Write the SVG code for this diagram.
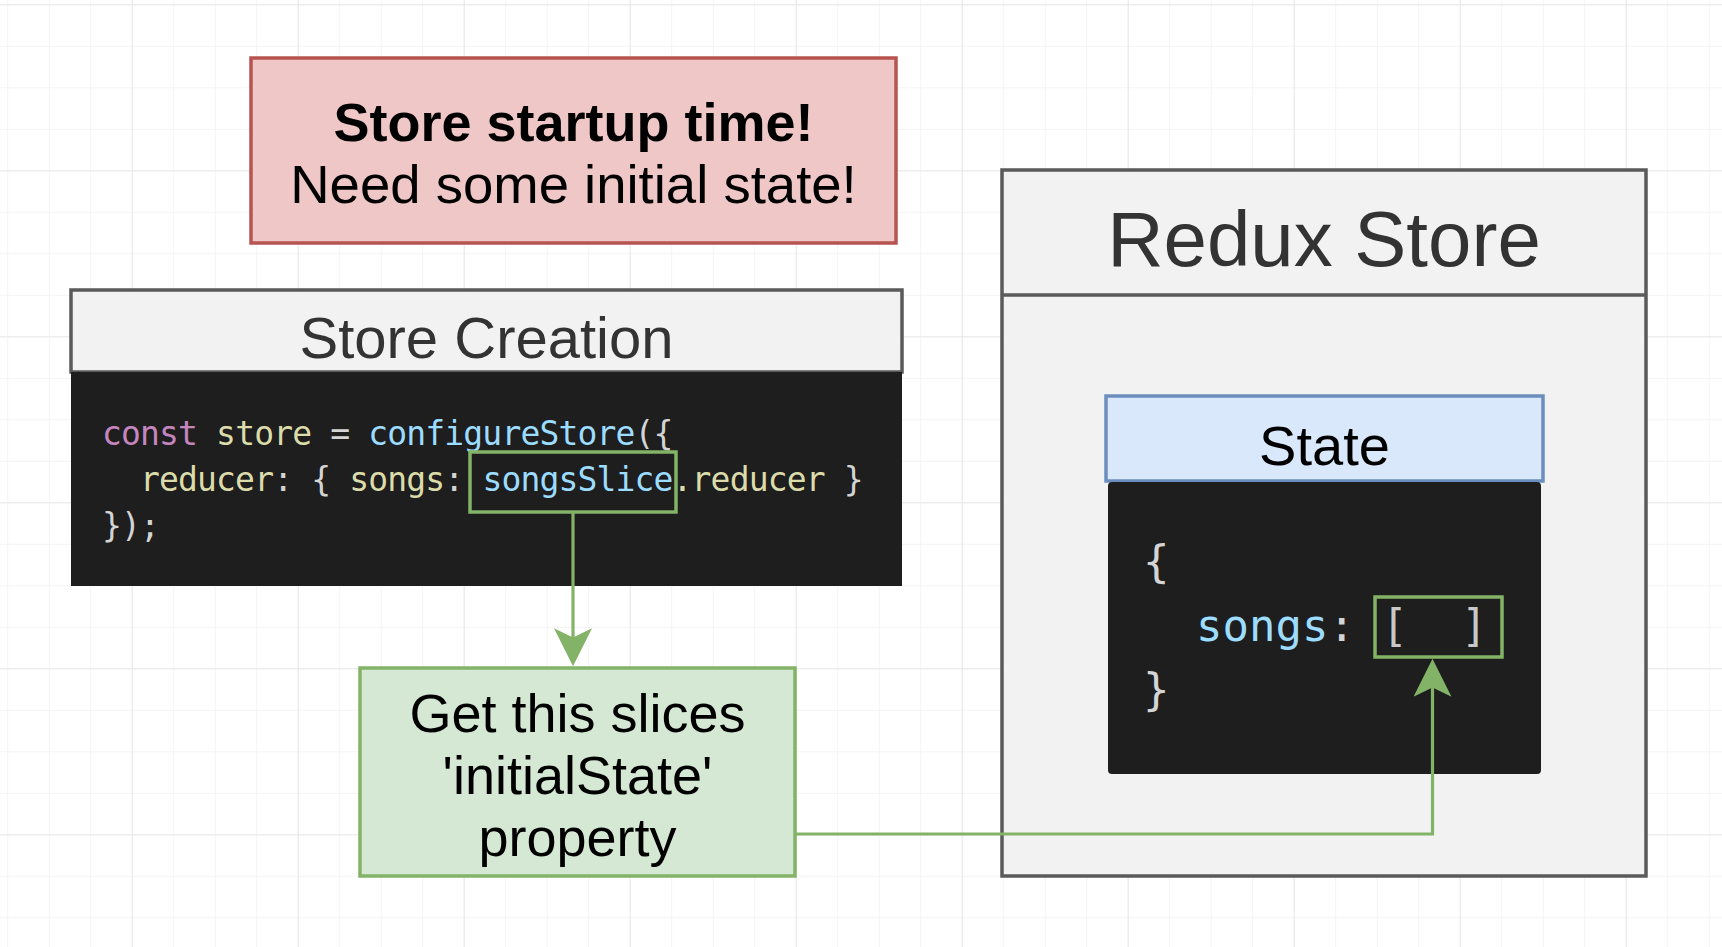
<svg xmlns="http://www.w3.org/2000/svg" width="1722" height="947" viewBox="0 0 1722 947">
<style>
.sans{font-family:"Liberation Sans",Arial,Helvetica,sans-serif}
.mono{font-family:"DejaVu Sans Mono","Liberation Mono",monospace}
.code1{font-size:33px;letter-spacing:-0.85px}
.code2{font-size:44px}
.gray{fill:#d4d4d4}
.kw{fill:#c586c0}
.var{fill:#dcdcaa}
.fn{fill:#9cdcfe}
.hl{fill:none;stroke:#82b366;stroke-width:3.5}
.conn{fill:none;stroke:#82b366;stroke-width:3.2}
.panel{fill:#f2f2f2;stroke:#5a5a5a;stroke-width:3.5}
</style>
<defs>
<pattern id="gminor" patternUnits="userSpaceOnUse" x="7.2" y="4.3" width="41.5" height="41.5">
<path d="M0,0 V41.5 M0,0 H41.5" stroke="#f1f1f1" stroke-width="1.5" fill="none"/>
</pattern>
<pattern id="gmajor" patternUnits="userSpaceOnUse" x="131.7" y="4.3" width="166" height="166">
<path d="M0,0 V166 M0,0 H166" stroke="#e3e3e3" stroke-width="1.5" fill="none"/>
</pattern>
<marker id="arr" markerUnits="userSpaceOnUse" markerWidth="38" markerHeight="38" viewBox="0 0 37 37" refX="29" refY="18.5" orient="auto">
<path d="M0,0 L37,18.5 L0,37 L9,18.5 Z" fill="#82b366"/>
</marker>
</defs>
<rect width="1722" height="947" fill="#ffffff"/>
<rect width="1722" height="947" fill="url(#gminor)"/>
<rect width="1722" height="947" fill="url(#gmajor)"/>

<g id="startup-note">
<rect x="251" y="58" width="645" height="185" fill="#efc7c6" stroke="#b85450" stroke-width="3.5"/>
<text class="sans" x="573.5" y="141" font-size="54" font-weight="bold" text-anchor="middle" fill="#000">Store startup time!</text>
<text class="sans" x="573.5" y="203" font-size="54.5" text-anchor="middle" fill="#000">Need some initial state!</text>
</g>

<g id="store-creation">
<rect class="panel" x="71" y="290" width="831" height="82"/>
<text class="sans" x="486.5" y="358" font-size="58" text-anchor="middle" fill="#333333">Store Creation</text>
<rect x="71" y="372" width="831" height="214" fill="#1e1e1e"/>
<text class="mono code1" x="102" y="445" xml:space="preserve"><tspan class="kw">const</tspan><tspan class="var"> store</tspan><tspan class="gray"> = </tspan><tspan class="fn">configureStore</tspan><tspan class="gray">({</tspan></text>
<text class="mono code1" x="102" y="491" xml:space="preserve"><tspan class="var">  reducer</tspan><tspan class="gray">: { </tspan><tspan class="var">songs</tspan><tspan class="gray">: </tspan><tspan class="fn">songsSlice</tspan><tspan class="var">.reducer</tspan><tspan class="gray"> }</tspan></text>
<text class="mono code1 gray" x="102" y="537">});</text>
<rect class="hl" x="470" y="452" width="206" height="60"/>
</g>

<g id="initial-state-note">
<rect x="360" y="668" width="435" height="208" fill="#d5e8d4" stroke="#82b366" stroke-width="3.5"/>
<text class="sans" x="577.5" y="732" font-size="54" text-anchor="middle" fill="#000">Get this slices</text>
<text class="sans" x="577.5" y="794" font-size="54" text-anchor="middle" fill="#000">'initialState'</text>
<text class="sans" x="577.5" y="856" font-size="54" text-anchor="middle" fill="#000">property</text>
</g>

<g id="redux-store">
<rect class="panel" x="1002" y="170" width="644" height="706"/>
<line x1="1002" y1="295" x2="1646" y2="295" stroke="#5a5a5a" stroke-width="3.5"/>
<text class="sans" x="1324" y="266" font-size="78" text-anchor="middle" fill="#333333">Redux Store</text>
</g>

<g id="state">
<rect x="1106" y="396" width="437" height="85" fill="#dae8fc" stroke="#6c8ebf" stroke-width="3.5"/>
<text class="sans" x="1324.5" y="465" font-size="56" text-anchor="middle" fill="#000">State</text>
<rect x="1108" y="482" width="433" height="292" rx="4" fill="#1e1e1e"/>
<text class="mono code2 gray" x="1143" y="577">{</text>
<text class="mono code2" x="1143" y="641" xml:space="preserve"><tspan class="fn">  songs</tspan><tspan class="gray">: </tspan><tspan fill="#c8c8c8">[  ]</tspan></text>
<text class="mono code2 gray" x="1143" y="705">}</text>
<rect class="hl" x="1375" y="597" width="127" height="60"/>
</g>

<g id="connectors">
<path class="conn" d="M573,512 V658" marker-end="url(#arr)"/>
<path class="conn" d="M795,834 H1432.5 V667" marker-end="url(#arr)"/>
</g>
</svg>
